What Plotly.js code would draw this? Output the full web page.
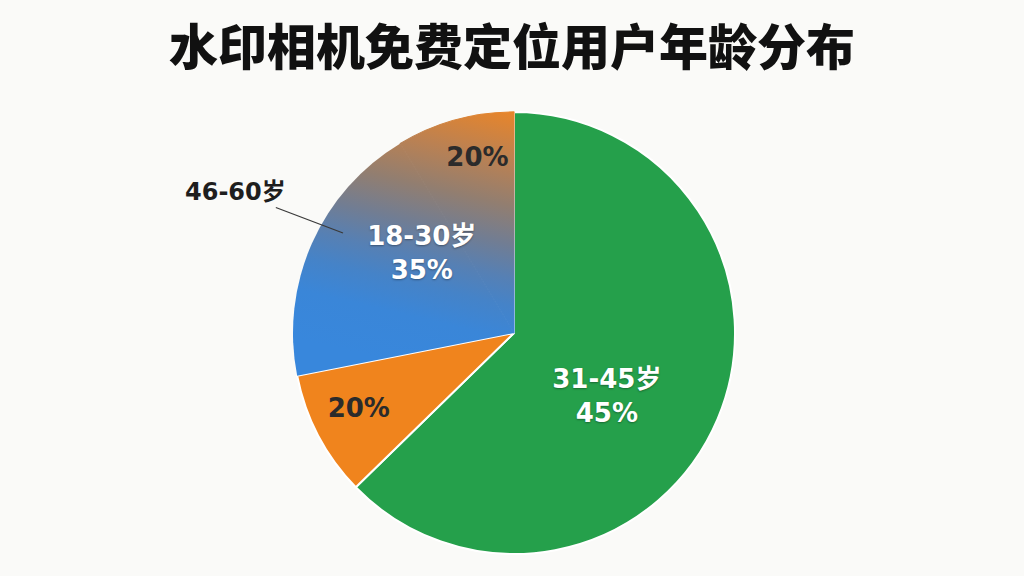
<!DOCTYPE html>
<html>
<head>
<meta charset="utf-8">
<script src="https://cdn.plot.ly/plotly-3.0.1.min.js"></script>
<style>
html, body { margin: 0; padding: 0; background: #fafaf8; }
#chart { width: 1024px; height: 576px; }
</style>
</head>
<body>
<div id="chart"></div>
<script>
// slices in clockwise order starting at 12 o'clock
var ageGroups = ["31-45岁", "未标注", "18-30岁", "46-60岁"];
// share of the circle each slice covers in the picture (%)
var sliceShares = [62.7, 9.2, 19.5, 8.6];
// percentages printed on the slices
var printedPercents = [45, 20, 35, 20];
var showGroupName = [true, false, true, false];
var sliceColors = ["#25a04b", "#f0841d", "#3a86db", "#c8843e"];
var textColors = ["#ffffff", "#2b2b2b", "#ffffff", "#2b2b2b"];
// small pixel shifts of the slice labels, the original does not centre them
var labelNudge = [[-9, 20], [-3, -5], [36, -23], [10, -8]];

var labelFont = "DejaVu Sans, Noto Sans CJK SC, sans-serif";

var sliceTexts = ageGroups.map(function (group, i)
{
    var pct = printedPercents[i] + "%";
    return showGroupName[i] ? group + "<br>" + pct : pct;
});

var pieTrace =
{
    type: "pie",
    labels: ageGroups,
    values: sliceShares,
    text: sliceTexts,
    textinfo: "text",
    textposition: "inside",
    insidetextorientation: "horizontal",
    sort: false,
    direction: "clockwise",
    rotation: 0,
    hoverinfo: "none",
    domain: { x: [0.2861, 0.7178], y: [0.0382, 0.8056] },
    marker: {
        colors: sliceColors,
        line: { color: "#ffffff", width: [2, 2, 0, 0] }
    },
    textfont: { family: labelFont, size: 26, weight: "bold", color: textColors }
};

var layout =
{
    width: 1024,
    height: 576,
    margin: { l: 0, r: 0, t: 0, b: 0 },
    paper_bgcolor: "#fafaf8",
    showlegend: false,
    uniformtext: { mode: "show", minsize: 26 },
    title: {
        text: "水印相机免费定位用户年龄分布",
        x: 0.5,
        xanchor: "center",
        xref: "paper",
        y: 1 - 48 / 576,
        yref: "container",
        yanchor: "middle",
        font: { family: "Noto Sans CJK SC, sans-serif", size: 49, weight: 900, color: "#111111" }
    },
    annotations: [{
        text: ageGroups[3],
        xref: "paper",
        yref: "paper",
        x: 343 / 1024,
        y: 1 - 233 / 576,
        showarrow: true,
        arrowhead: 0,
        arrowwidth: 1.3,
        arrowcolor: "#3a3a3a",
        ax: -108,
        ay: -41,
        font: { family: labelFont, size: 24, weight: "bold", color: "#1e1e1e" }
    }]
};

Plotly.newPlot("chart", [pieTrace], layout, { staticPlot: true }).then(function (gd)
{
    var svgNs = "http://www.w3.org/2000/svg";
    var slices = gd.querySelectorAll(".pielayer .slice");
    var paths = gd.querySelectorAll(".pielayer .slice path.surface");
    if (paths.length < 4) return;

    // label shifts, a soft shadow on the white labels, and all labels
    // moved above every slice so no neighbour covers them
    var traceGroup = slices[0].parentNode;
    var labelLayer = document.createElementNS(svgNs, "g");
    traceGroup.appendChild(labelLayer);
    slices.forEach(function (slice, i)
    {
        var label = slice.querySelector("text.slicetext");
        if (!label) return;
        var shift = labelNudge[i] || [0, 0];
        var old = label.getAttribute("transform") || "";
        label.setAttribute("transform", "translate(" + shift[0] + "," + shift[1] + ") " + old);
        if (textColors[i] === "#ffffff") label.style.textShadow = "0px 1px 2px rgba(0,0,0,0.35)";
        labelLayer.appendChild(label);
    });

    // the upper-left part of the pie fades from blue into orange
    var boxA = paths[2].getBBox();
    var boxB = paths[3].getBBox();
    var minX = Math.min(boxA.x, boxB.x);
    var minY = Math.min(boxA.y, boxB.y);
    var maxX = Math.max(boxA.x + boxA.width, boxB.x + boxB.width);
    var maxY = Math.max(boxA.y + boxA.height, boxB.y + boxB.height);

    var defs = gd.querySelector(".main-svg defs");
    var grad = document.createElementNS(svgNs, "linearGradient");
    grad.setAttribute("id", "ageFade");
    grad.setAttribute("gradientUnits", "userSpaceOnUse");
    grad.setAttribute("x1", minX + 0.72 * (maxX - minX));
    grad.setAttribute("y1", maxY);
    grad.setAttribute("x2", maxX);
    grad.setAttribute("y2", minY);

    var stops = [
        [0.00, "#3887dc"],
        [0.18, "#3a86d8"],
        [0.30, "#4583c8"],
        [0.40, "#5680b4"],
        [0.52, "#717d93"],
        [0.66, "#927e70"],
        [0.82, "#bb8152"],
        [1.00, "#e8852a"]
    ];
    stops.forEach(function (s)
    {
        var stop = document.createElementNS(svgNs, "stop");
        stop.setAttribute("offset", s[0]);
        stop.setAttribute("stop-color", s[1]);
        grad.appendChild(stop);
    });
    defs.appendChild(grad);

    paths[2].style.fill = "url(#ageFade)";
    paths[3].style.fill = "url(#ageFade)";
    // hide the seam between the two faded slices
    paths[3].style.stroke = "url(#ageFade)";
    paths[3].style.strokeWidth = "1.2px";
});
</script>
</body>
</html>
